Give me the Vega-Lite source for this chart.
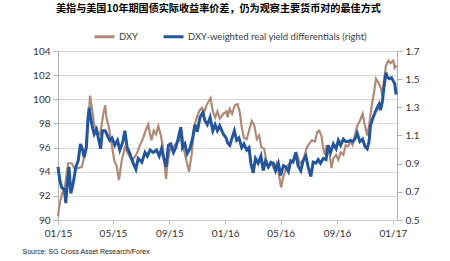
{
  "$schema": "https://vega.github.io/schema/vega-lite/v6.json",
  "width": 339,
  "height": 169,
  "autosize": {"type": "none"},
  "padding": {"left": 58, "top": 51, "right": 53, "bottom": 41},
  "background": "white",
  "title": {
    "text": "美指与美国10年期国债实际收益率价差，仍为观察主要货币对的最佳方式",
    "anchor": "start",
    "frame": "group",
    "dx": -2,
    "offset": 11,
    "font": "Noto Sans CJK SC",
    "fontSize": 10.1,
    "fontWeight": "bold",
    "color": "#000000"
  },
  "datasets": {
    "dxy": [
      {"d":"2015-01-01","v":90.3},{"d":"2015-01-05","v":91.4},{"d":"2015-01-10","v":92.2},{"d":"2015-01-16","v":92.7},
      {"d":"2015-01-23","v":94.7},{"d":"2015-01-31","v":94.7},{"d":"2015-02-07","v":94.2},{"d":"2015-02-14","v":94.3},
      {"d":"2015-02-22","v":94.4},{"d":"2015-03-01","v":95.5},{"d":"2015-03-08","v":97.9},{"d":"2015-03-12","v":100.3},
      {"d":"2015-03-16","v":99.3},{"d":"2015-03-21","v":97.9},{"d":"2015-03-26","v":97.4},{"d":"2015-04-03","v":97.1},
      {"d":"2015-04-10","v":98.8},{"d":"2015-04-14","v":99.5},{"d":"2015-04-17","v":98.4},{"d":"2015-04-22","v":97.7},
      {"d":"2015-04-28","v":96.3},{"d":"2015-05-04","v":94.9},{"d":"2015-05-09","v":94.5},{"d":"2015-05-14","v":93.3},
      {"d":"2015-05-20","v":94.9},{"d":"2015-05-27","v":96.0},{"d":"2015-06-03","v":95.5},{"d":"2015-06-12","v":94.9},
      {"d":"2015-06-22","v":95.5},{"d":"2015-06-29","v":96.2},{"d":"2015-07-06","v":96.8},{"d":"2015-07-12","v":97.5},
      {"d":"2015-07-17","v":97.9},{"d":"2015-07-21","v":97.1},{"d":"2015-07-24","v":96.6},{"d":"2015-07-29","v":97.4},
      {"d":"2015-08-03","v":97.1},{"d":"2015-08-08","v":97.8},{"d":"2015-08-13","v":97.1},{"d":"2015-08-17","v":96.3},
      {"d":"2015-08-20","v":95.3},{"d":"2015-08-25","v":93.4},{"d":"2015-08-27","v":94.4},{"d":"2015-09-02","v":95.8},
      {"d":"2015-09-08","v":96.0},{"d":"2015-09-15","v":96.3},{"d":"2015-09-23","v":96.6},{"d":"2015-09-28","v":97.4},
      {"d":"2015-10-03","v":95.8},{"d":"2015-10-09","v":94.8},{"d":"2015-10-14","v":94.0},{"d":"2015-10-20","v":95.5},
      {"d":"2015-10-25","v":97.7},{"d":"2015-10-31","v":98.5},{"d":"2015-11-05","v":99.0},{"d":"2015-11-11","v":99.3},
      {"d":"2015-11-16","v":98.9},{"d":"2015-11-21","v":99.5},{"d":"2015-11-27","v":99.9},{"d":"2015-11-30","v":100.1},
      {"d":"2015-12-05","v":99.0},{"d":"2015-12-10","v":98.5},{"d":"2015-12-15","v":99.0},{"d":"2015-12-20","v":98.4},
      {"d":"2015-12-28","v":98.8},{"d":"2016-01-04","v":99.0},{"d":"2016-01-06","v":98.5},{"d":"2016-01-11","v":99.2},
      {"d":"2016-01-16","v":98.8},{"d":"2016-01-22","v":99.5},{"d":"2016-01-28","v":99.6},{"d":"2016-02-02","v":98.9},
      {"d":"2016-02-06","v":97.7},{"d":"2016-02-11","v":96.8},{"d":"2016-02-17","v":96.7},{"d":"2016-02-22","v":97.4},
      {"d":"2016-02-28","v":98.2},{"d":"2016-03-04","v":97.9},{"d":"2016-03-10","v":96.7},{"d":"2016-03-15","v":97.0},
      {"d":"2016-03-20","v":96.0},{"d":"2016-03-26","v":95.9},{"d":"2016-03-31","v":94.9},{"d":"2016-04-05","v":94.4},
      {"d":"2016-04-11","v":94.7},{"d":"2016-04-17","v":94.2},{"d":"2016-04-22","v":94.7},{"d":"2016-04-27","v":93.8},
      {"d":"2016-05-02","v":92.7},{"d":"2016-05-07","v":93.6},{"d":"2016-05-14","v":94.4},{"d":"2016-05-21","v":94.7},
      {"d":"2016-05-28","v":94.9},{"d":"2016-06-05","v":95.5},{"d":"2016-06-12","v":94.7},{"d":"2016-06-19","v":94.9},
      {"d":"2016-06-27","v":96.0},{"d":"2016-07-02","v":96.3},{"d":"2016-07-08","v":96.6},{"d":"2016-07-15","v":96.5},
      {"d":"2016-07-20","v":97.3},{"d":"2016-07-24","v":97.4},{"d":"2016-07-29","v":97.0},{"d":"2016-08-02","v":95.9},
      {"d":"2016-08-06","v":95.4},{"d":"2016-08-09","v":96.2},{"d":"2016-08-15","v":95.6},{"d":"2016-08-20","v":94.3},
      {"d":"2016-08-24","v":95.1},{"d":"2016-08-30","v":95.4},{"d":"2016-09-04","v":95.0},{"d":"2016-09-09","v":95.6},
      {"d":"2016-09-15","v":95.4},{"d":"2016-09-20","v":96.2},{"d":"2016-09-25","v":96.1},{"d":"2016-10-01","v":96.5},
      {"d":"2016-10-05","v":96.2},{"d":"2016-10-10","v":97.0},{"d":"2016-10-15","v":97.8},{"d":"2016-10-21","v":98.2},
      {"d":"2016-10-27","v":98.8},{"d":"2016-11-01","v":97.8},{"d":"2016-11-06","v":97.0},{"d":"2016-11-10","v":97.8},
      {"d":"2016-11-16","v":99.5},{"d":"2016-11-21","v":100.6},{"d":"2016-11-25","v":101.7},{"d":"2016-11-30","v":101.4},
      {"d":"2016-12-05","v":101.0},{"d":"2016-12-09","v":100.3},{"d":"2016-12-12","v":101.4},{"d":"2016-12-17","v":102.8},
      {"d":"2016-12-22","v":103.2},{"d":"2016-12-27","v":103.0},{"d":"2017-01-02","v":103.2},{"d":"2017-01-05","v":102.6},
      {"d":"2017-01-09","v":102.8}
    ],
    "ry": [
      {"d":"2015-01-01","v":0.877},{"d":"2015-01-05","v":0.783},{"d":"2015-01-09","v":0.731},{"d":"2015-01-15","v":0.714},
      {"d":"2015-01-18","v":0.620},{"d":"2015-01-22","v":0.783},{"d":"2015-01-25","v":0.877},{"d":"2015-01-29","v":0.689},
      {"d":"2015-02-03","v":0.757},{"d":"2015-02-09","v":0.877},{"d":"2015-02-14","v":0.920},{"d":"2015-02-19","v":1.040},
      {"d":"2015-02-23","v":1.006},{"d":"2015-02-27","v":0.946},{"d":"2015-03-04","v":1.014},{"d":"2015-03-07","v":1.203},
      {"d":"2015-03-10","v":1.297},{"d":"2015-03-13","v":1.229},{"d":"2015-03-17","v":1.160},{"d":"2015-03-21","v":1.109},
      {"d":"2015-03-26","v":1.143},{"d":"2015-03-30","v":1.083},{"d":"2015-04-04","v":1.006},{"d":"2015-04-08","v":1.134},
      {"d":"2015-04-14","v":1.134},{"d":"2015-04-19","v":1.100},{"d":"2015-04-24","v":1.066},{"d":"2015-04-29","v":1.083},
      {"d":"2015-05-05","v":1.031},{"d":"2015-05-11","v":1.066},{"d":"2015-05-16","v":0.997},{"d":"2015-05-22","v":1.049},
      {"d":"2015-05-27","v":1.134},{"d":"2015-06-01","v":1.014},{"d":"2015-06-07","v":0.971},{"d":"2015-06-14","v":0.903},
      {"d":"2015-06-20","v":0.860},{"d":"2015-06-25","v":0.937},{"d":"2015-07-03","v":0.911},{"d":"2015-07-10","v":0.980},
      {"d":"2015-07-15","v":0.954},{"d":"2015-07-21","v":0.997},{"d":"2015-07-28","v":0.980},{"d":"2015-08-04","v":0.997},
      {"d":"2015-08-10","v":0.954},{"d":"2015-08-15","v":1.006},{"d":"2015-08-20","v":0.937},{"d":"2015-08-25","v":0.877},
      {"d":"2015-08-30","v":1.031},{"d":"2015-09-04","v":1.040},{"d":"2015-09-10","v":0.980},{"d":"2015-09-15","v":1.014},
      {"d":"2015-09-20","v":1.074},{"d":"2015-09-26","v":1.160},{"d":"2015-09-30","v":1.014},{"d":"2015-10-05","v":1.040},
      {"d":"2015-10-10","v":0.971},{"d":"2015-10-16","v":1.006},{"d":"2015-10-22","v":1.083},{"d":"2015-10-27","v":1.177},
      {"d":"2015-11-01","v":1.126},{"d":"2015-11-07","v":1.229},{"d":"2015-11-13","v":1.263},{"d":"2015-11-18","v":1.203},
      {"d":"2015-11-23","v":1.177},{"d":"2015-11-29","v":1.229},{"d":"2015-12-05","v":1.134},{"d":"2015-12-10","v":1.177},
      {"d":"2015-12-15","v":1.134},{"d":"2015-12-20","v":1.169},{"d":"2015-12-28","v":1.109},{"d":"2016-01-03","v":1.083},
      {"d":"2016-01-06","v":1.049},{"d":"2016-01-11","v":1.031},{"d":"2016-01-16","v":1.083},{"d":"2016-01-21","v":1.134},
      {"d":"2016-01-26","v":1.066},{"d":"2016-01-31","v":1.083},{"d":"2016-02-06","v":1.014},{"d":"2016-02-11","v":1.040},
      {"d":"2016-02-17","v":0.997},{"d":"2016-02-22","v":1.014},{"d":"2016-02-26","v":0.903},{"d":"2016-03-02","v":0.834},
      {"d":"2016-03-07","v":0.937},{"d":"2016-03-13","v":0.903},{"d":"2016-03-19","v":0.954},{"d":"2016-03-24","v":0.851},
      {"d":"2016-03-29","v":0.920},{"d":"2016-04-04","v":0.877},{"d":"2016-04-10","v":0.911},{"d":"2016-04-15","v":0.903},
      {"d":"2016-04-20","v":0.851},{"d":"2016-04-26","v":0.903},{"d":"2016-05-01","v":0.817},{"d":"2016-05-07","v":0.886},
      {"d":"2016-05-12","v":0.877},{"d":"2016-05-18","v":0.843},{"d":"2016-05-23","v":0.920},{"d":"2016-05-28","v":0.911},
      {"d":"2016-06-03","v":0.980},{"d":"2016-06-08","v":0.886},{"d":"2016-06-14","v":0.851},{"d":"2016-06-19","v":0.920},
      {"d":"2016-06-25","v":0.954},{"d":"2016-06-30","v":0.877},{"d":"2016-07-06","v":0.809},{"d":"2016-07-11","v":0.911},
      {"d":"2016-07-17","v":0.903},{"d":"2016-07-22","v":0.929},{"d":"2016-07-27","v":0.903},{"d":"2016-08-02","v":0.937},
      {"d":"2016-08-08","v":0.929},{"d":"2016-08-13","v":1.031},{"d":"2016-08-18","v":0.980},{"d":"2016-08-24","v":1.040},
      {"d":"2016-08-30","v":1.006},{"d":"2016-09-04","v":1.066},{"d":"2016-09-09","v":1.031},{"d":"2016-09-15","v":1.074},
      {"d":"2016-09-20","v":1.057},{"d":"2016-09-25","v":1.057},{"d":"2016-10-01","v":1.066},{"d":"2016-10-05","v":1.057},
      {"d":"2016-10-10","v":1.074},{"d":"2016-10-15","v":1.117},{"d":"2016-10-21","v":1.057},{"d":"2016-10-27","v":1.074},
      {"d":"2016-11-01","v":1.023},{"d":"2016-11-06","v":1.006},{"d":"2016-11-10","v":1.057},{"d":"2016-11-13","v":1.169},
      {"d":"2016-11-18","v":1.220},{"d":"2016-11-23","v":1.263},{"d":"2016-11-28","v":1.297},{"d":"2016-12-02","v":1.323},
      {"d":"2016-12-05","v":1.280},{"d":"2016-12-09","v":1.340},{"d":"2016-12-12","v":1.426},{"d":"2016-12-17","v":1.546},
      {"d":"2016-12-19","v":1.520},{"d":"2016-12-24","v":1.503},{"d":"2016-12-29","v":1.511},{"d":"2017-01-02","v":1.486},
      {"d":"2017-01-05","v":1.469},{"d":"2017-01-08","v":1.391}
    ]
  },
  "encoding": {
    "x": {
      "field": "d",
      "type": "temporal",
      "scale": {"domain": [{"year": 2015, "month": 1, "date": 1}, {"year": 2017, "month": 1, "date": 10}]},
      "axis": {
        "values": [
          {"year": 2015, "month": 1, "date": 1}, {"year": 2015, "month": 5, "date": 1}, {"year": 2015, "month": 9, "date": 1},
          {"year": 2016, "month": 1, "date": 1}, {"year": 2016, "month": 5, "date": 1}, {"year": 2016, "month": 9, "date": 1},
          {"year": 2017, "month": 1, "date": 1}
        ],
        "format": "%m/%y",
        "grid": false,
        "domainColor": "#D0D0D0",
        "tickColor": "#C0C0C0",
        "tickSize": 4,
        "labelFont": "Lato",
        "labelFontSize": 10,
        "labelColor": "#333333",
        "labelPadding": 4,
        "labelFlush": false,
        "title": "Source: SG Cross Asset Research/Forex",
        "titleFont": "Liberation Sans",
        "titleFontSize": 7,
        "titleFontWeight": "normal",
        "titleColor": "#222222",
        "titleAnchor": "start",
        "titleAlign": "left",
        "titleBaseline": "middle",
        "titleX": -36,
        "titleY": 31
      }
    }
  },
  "layer": [
    {
      "data": {"name": "dxy"},
      "mark": {"type": "line", "strokeWidth": 2.2, "interpolate": "linear"},
      "encoding": {
        "y": {
          "field": "v",
          "type": "quantitative",
          "scale": {"domain": [90, 104], "nice": false, "zero": false},
          "axis": {
            "values": [90, 92, 94, 96, 98, 100, 102, 104],
            "title": null,
            "grid": true,
            "gridColor": "#D9D9D9",
            "domainColor": "#B0B0B0",
            "tickColor": "#B0B0B0",
            "tickSize": 5,
            "labelFont": "Lato",
            "labelFontSize": 10,
            "labelColor": "#333333",
            "labelPadding": 3
          }
        },
        "color": {"datum": "DXY"}
      }
    },
    {
      "data": {"name": "ry"},
      "mark": {"type": "line", "strokeWidth": 3, "interpolate": "linear"},
      "encoding": {
        "y": {
          "field": "v",
          "type": "quantitative",
          "scale": {"domain": [0.5, 1.7], "nice": false, "zero": false},
          "axis": {
            "orient": "right",
            "values": [0.5, 0.7, 0.9, 1.1, 1.3, 1.5, 1.7],
            "format": ".1f",
            "title": null,
            "grid": false,
            "domainColor": "#B0B0B0",
            "tickColor": "#B0B0B0",
            "tickSize": 5,
            "labelFont": "Lato",
            "labelFontSize": 10,
            "labelColor": "#333333",
            "labelPadding": 3
          }
        },
        "color": {"datum": "DXY-weighted real yield differentials (right)"}
      }
    }
  ],
  "resolve": {"scale": {"y": "independent"}},
  "config": {
    "view": {"stroke": null},
    "range": {"category": ["#B08A76", "#24569C"]},
    "legend": {
      "orient": "none",
      "legendX": 35,
      "legendY": -26,
      "direction": "horizontal",
      "title": null,
      "symbolType": "stroke",
      "symbolSize": 400,
      "symbolStrokeWidth": 3,
      "labelFont": "Lato",
      "labelFontSize": 9.5,
      "labelColor": "#404040",
      "labelLimit": 400,
      "columnPadding": 18,
      "labelOffset": 3
    }
  }
}
